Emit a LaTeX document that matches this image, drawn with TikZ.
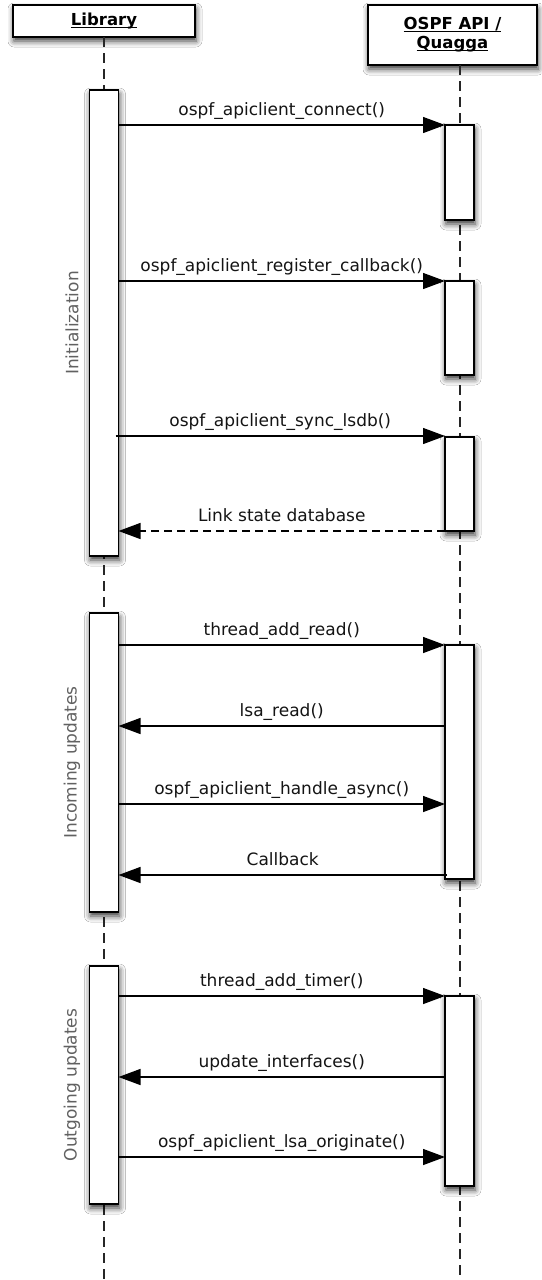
\documentclass[tikz,border=0pt]{standalone}
\usepackage{fontspec}
\setmainfont{DejaVu Sans}
\usetikzlibrary{arrows.meta,shadows.blur}

% underline drawn just under the baseline, across the whole word
\newcommand\hdrul[1]{\setbox0\hbox{#1}\rlap{\copy0}\rule[-2.6pt]{\wd0}{1.3pt}}

\begin{document}
\begin{tikzpicture}[x=1pt,y=-1pt,
  every node/.style={inner sep=0pt,outer sep=0pt},
  softshadow/.style={blur shadow={shadow xshift=1pt,shadow yshift=-4pt,
      shadow blur radius=6pt,shadow opacity=80}},
  header/.style={draw=black,line width=1.6pt,fill=white,softshadow,
      font=\fontsize{16.5}{19}\selectfont\bfseries,align=center},
  act/.style={draw=black,line width=1.5pt,fill=white,softshadow,
      minimum width=29pt},
  life/.style={draw=black!85,line width=1.8pt,dash pattern=on 10pt off 6pt},
  msg/.style={line width=1.3pt,-{Triangle[length=22pt,width=16pt]}},
  reply/.style={msg,dash pattern=on 8pt off 5pt},
  lbl/.style={font=\fontsize{17}{20}\selectfont,text=black!92,anchor=base},
  phase/.style={font=\fontsize{17}{20}\selectfont,text=black!62,rotate=90}
]
\useasboundingbox (0,0) rectangle (541,1280);
\fill[white] (0,0) rectangle (541,1280);

% lifeline ends
\coordinate (libEnd) at (104,1280);
\coordinate (apiEnd) at (460,1280);

% participant headers
\node[header,minimum width=182pt,minimum height=32pt] (lib) at (104,21)
  {\hdrul{Library}};
\node[header,minimum width=169pt,minimum height=60pt] (api) at (452.5,35)
  {\hdrul{OSPF API /}\\\hdrul{Quagga}};

% lifelines
\draw[life] (lib.south) -- (libEnd);
\draw[life] (api.south -| apiEnd) -- (apiEnd);

% activation bars of the library
\node[act,minimum height=466pt] (la1) at (104,323) {};
\node[act,minimum height=299pt] (la2) at (104,762.5) {};
\node[act,minimum height=238pt] (la3) at (104,1085) {};

% activation bars of the OSPF API
\node[act,minimum height=95pt] (oa1) at (459.5,172.5) {};
\node[act,minimum height=94pt] (oa2) at (459.5,328) {};
\node[act,minimum height=94pt] (oa3) at (459.5,484) {};
\node[act,minimum height=234pt] (oa4) at (459.5,762) {};
\node[act,minimum height=190pt] (oa5) at (459.5,1091) {};

% phase captions
\node[phase] (ph1) at (72,323) {Initialization};
\node[phase] (ph2) at (72,762.5) {Incoming updates};
\node[phase] (ph3) at (72,1085) {Outgoing updates};

% initialization
\draw[msg] (la1.east |- 0,125) -- (oa1.west |- 0,125)
  node[lbl,midway,yshift=10pt] (m1) {ospf\_apiclient\_connect()};
\draw[msg] (la1.east |- 0,281) -- (oa2.west |- 0,281)
  node[lbl,midway,yshift=10pt] (m2) {ospf\_apiclient\_register\_callback()};
\draw[msg] ([xshift=-3pt]la1.east |- 0,436) -- (oa3.west |- 0,436)
  node[lbl,midway,yshift=10pt] (m3) {ospf\_apiclient\_sync\_lsdb()};
\draw[reply] (oa3.west |- 0,531) -- (la1.east |- 0,531)
  node[lbl,midway,yshift=10pt] (m4) {Link state database};

% incoming updates
\draw[msg] (la2.east |- 0,645) -- (oa4.west |- 0,645)
  node[lbl,midway,yshift=10pt] (m5) {thread\_add\_read()};
\draw[msg] (oa4.west |- 0,726) -- (la2.east |- 0,726)
  node[lbl,midway,yshift=10pt] (m6) {lsa\_read()};
\draw[msg] (la2.east |- 0,804) -- (oa4.west |- 0,804)
  node[lbl,midway,yshift=10pt] (m7) {ospf\_apiclient\_handle\_async()};
\draw[msg] ([xshift=2pt]oa4.west |- 0,875) -- (la2.east |- 0,875)
  node[lbl,midway,yshift=10pt] (m8) {Callback};

% outgoing updates
\draw[msg] (la3.east |- 0,996) -- (oa5.west |- 0,996)
  node[lbl,midway,yshift=10pt] (m9) {thread\_add\_timer()};
\draw[msg] (oa5.west |- 0,1077) -- (la3.east |- 0,1077)
  node[lbl,midway,yshift=10pt] (m10) {update\_interfaces()};
\draw[msg] (la3.east |- 0,1157) -- (oa5.west |- 0,1157)
  node[lbl,midway,yshift=10pt] (m11) {ospf\_apiclient\_lsa\_originate()};
\end{tikzpicture}
\end{document}
